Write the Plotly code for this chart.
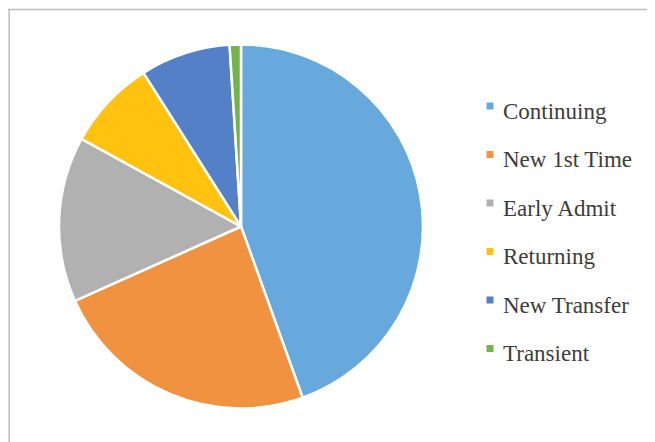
import plotly.graph_objects as go

labels = ["Continuing", "New 1st Time", "Early Admit", "Returning", "New Transfer", "Transient"]
values = [44.5, 23.8, 14.7, 8.0, 8.0, 1.0]
colors = ["#67A9DD", "#F09240", "#B1B1B1", "#FFC20E", "#5380C6", "#73B34B"]

# page body has an 8px margin, so the figure is drawn 8px smaller and shifted
OFF = 8
W, H = 655 - OFF, 442 - OFF
cx, cy, r = 241 - OFF, 226.5 - OFF, 182


def px(x):
    return (x - OFF) / W


def py(y):
    return 1 - (y - OFF) / H


fig = go.Figure()
fig.add_trace(go.Pie(
    labels=labels, values=values, sort=False, direction="clockwise", rotation=0,
    marker=dict(colors=colors, line=dict(color="white", width=2.5)),
    textinfo="none", hoverinfo="label+percent", showlegend=False,
    domain=dict(x=[(cx - r) / W, (cx + r) / W], y=[(H - cy - r) / H, (H - cy + r) / H]),
))

shapes = [
    dict(type="line", xref="paper", yref="paper", x0=px(8), x1=1, y0=py(9.5), y1=py(9.5),
         line=dict(color="#BDBDBD", width=1.5)),
    dict(type="line", xref="paper", yref="paper", x0=px(9.2), x1=px(9.2), y0=0, y1=py(9.5),
         line=dict(color="#BDBDBD", width=1.5)),
]
annotations = []
leg_x, leg_y0, leg_dy = 490, 106, 48.5
for i, (lab, col) in enumerate(zip(labels, colors)):
    y = leg_y0 + i * leg_dy
    shapes.append(dict(type="rect", xref="paper", yref="paper",
                       x0=px(leg_x - 3.5), x1=px(leg_x + 3.5),
                       y0=py(y + 3.5), y1=py(y - 3.5),
                       fillcolor=col, line=dict(width=0)))
    annotations.append(dict(text=lab, xref="paper", yref="paper", x=px(leg_x + 11), y=py(y + 5),
                            xanchor="left", yanchor="middle", showarrow=False,
                            font=dict(family="Liberation Serif", size=23, color="#3C3C3C")))

fig.update_layout(
    width=W, height=H, margin=dict(l=0, r=0, t=0, b=0),
    paper_bgcolor="white", plot_bgcolor="white",
    shapes=shapes, annotations=annotations,
)
fig.write_html("out.html")
